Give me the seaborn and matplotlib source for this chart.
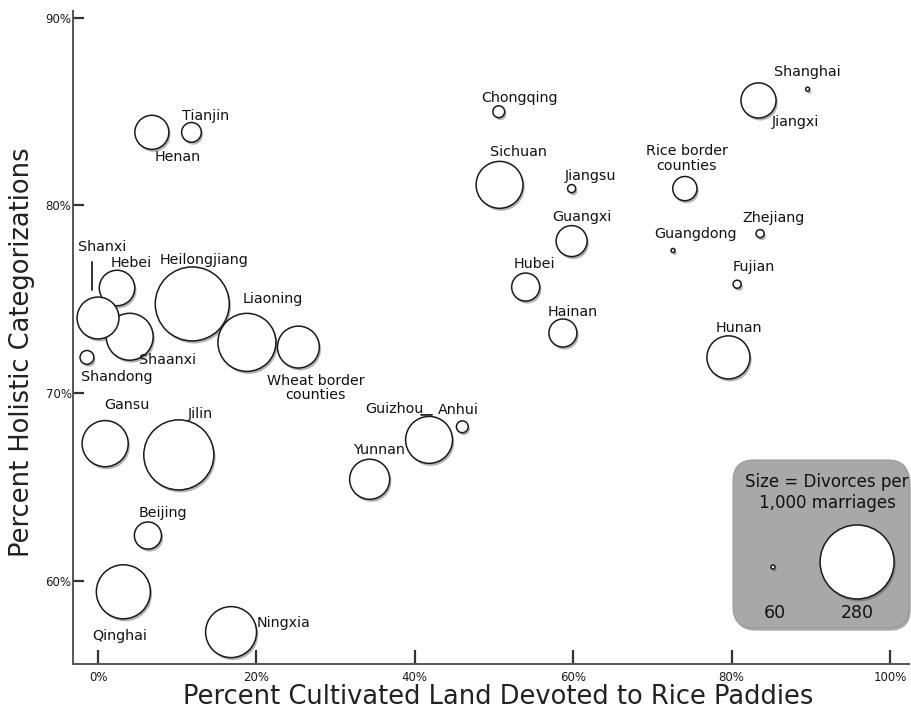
import numpy as np
import pandas as pd
import matplotlib
matplotlib.use("Agg")
import matplotlib.pyplot as plt
import matplotlib.patheffects as pe
from matplotlib.patches import FancyBboxPatch
from matplotlib.transforms import offset_copy
import seaborn as sns

# --- Data ---
provinces = ["Henan", "Tianjin", "Hebei", "Shaanxi", "Shanxi", "Heilongjiang", "Liaoning",
             "Wheat border\ncounties", "Shandong", "Gansu", "Jilin", "Beijing", "Qinghai",
             "Ningxia", "Chongqing", "Sichuan", "Jiangsu", "Guangxi", "Hubei", "Hainan",
             "Guizhou", "Anhui", "Yunnan", "Jiangxi", "Shanghai", "Rice border\ncounties",
             "Zhejiang", "Guangdong", "Fujian", "Hunan"]
rice_pct = [6.8, 11.8, 2.4, 4.0, 0.0, 11.9, 18.8,
            25.3, -1.4, 0.9, 10.2, 6.3, 3.2,
            16.8, 50.6, 50.7, 59.8, 59.8, 54.0, 58.7,
            41.8, 46.0, 34.3, 83.4, 89.6, 74.1,
            83.6, 72.6, 80.7, 79.6]
holistic_pct = [83.9, 83.9, 75.6, 73.0, 74.0, 74.75, 72.7,
                72.45, 71.9, 67.3, 66.7, 62.4, 59.4,
                57.25, 85.0, 81.1, 80.9, 78.1, 75.65, 73.2,
                67.5, 68.2, 65.4, 85.6, 86.2, 80.9,
                78.5, 77.6, 75.8, 71.9]
divorces = [106, 75, 110, 148, 130, 280, 195,
            130, 67, 145, 257, 89, 177,
            164, 65, 148, 62, 98, 91, 91,
            148, 65, 124, 109, 60, 83,
            62, 60, 62, 134]

legend_values = [60, 280]
x_ticks = [0, 20, 40, 60, 80, 100]
y_ticks = [60, 70, 80, 90]

# label offsets from bubble centre, in pixels (dx right, dy down)
label_offsets = {
    "Henan": (26, 25), "Tianjin": (14, -16), "Hebei": (14, -25), "Heilongjiang": (12, -44),
    "Shanxi": (4, -71), "Shaanxi": (38, 23), "Liaoning": (26, -43),
    "Wheat border\ncounties": (17, 41), "Shandong": (30, 20), "Gansu": (22, -39),
    "Jilin": (22, -41), "Beijing": (15, -23), "Qinghai": (-4, 44), "Ningxia": (52, -9),
    "Chongqing": (21, -14), "Sichuan": (19, -33), "Jiangsu": (19, -13), "Guangxi": (10, -24),
    "Hubei": (9, -23), "Hainan": (10, -21), "Guizhou": (-35, -31), "Anhui": (-4, -17),
    "Yunnan": (9, -29), "Jiangxi": (37, 22), "Shanghai": (0, -17),
    "Rice border\ncounties": (2, -30), "Zhejiang": (13, -16), "Guangdong": (23, -16),
    "Fujian": (17, -17), "Hunan": (10, -29),
}
# short leader lines: province -> ((dx0, dy0), (dx1, dy1)) in pixels, y down
leaders = {"Shanxi": ((-6, -56), (-6, -28)), "Guizhou": ((-8, -25), (3, -25))}

df = pd.DataFrame({"province": provinces, "rice": rice_pct,
                   "holistic": holistic_pct, "divorces": divorces})

# --- Style ---
sns.set_theme(style="white")
plt.rcParams["font.family"] = ["DejaVu Sans"]

SIZES = (8.3, 2840)
SIZE_NORM = (60, 280)

def marker_area(v):
    return SIZES[0] + (v - SIZE_NORM[0]) / (SIZE_NORM[1] - SIZE_NORM[0]) * (SIZES[1] - SIZES[0])

shadow = [pe.SimplePatchShadow(offset=(1.2, -1.8), shadow_rgbFace="#555555", alpha=0.45), pe.Normal()]

fig = plt.figure(figsize=(9.12, 7.16), dpi=100)
ax = fig.add_axes([73 / 912, 1 - 664 / 716, 836 / 912, 653 / 716])

sns.scatterplot(data=df, x="rice", y="holistic", size="divorces",
                sizes=SIZES, size_norm=SIZE_NORM, color="white",
                edgecolor="#1a1a1a", linewidth=1.1, legend=False, ax=ax, zorder=3)
for coll in ax.collections:
    coll.set_path_effects(shadow)

for _, row in df.iterrows():
    dx, dy = label_offsets[row["province"]]
    ax.annotate(row["province"], (row["rice"], row["holistic"]),
                xytext=(dx, -dy), textcoords="offset pixels",
                ha="center", va="center", fontsize=10.3, color="#111111",
                linespacing=1.05, zorder=4)

for name, ((dx0, dy0), (dx1, dy1)) in leaders.items():
    r = df[df["province"] == name].iloc[0]
    ax.annotate("", (r["rice"], r["holistic"]), (r["rice"], r["holistic"]),
                xycoords=offset_copy(ax.transData, fig=fig, x=dx1, y=-dy1, units="dots"),
                textcoords=offset_copy(ax.transData, fig=fig, x=dx0, y=-dy0, units="dots"),
                arrowprops=dict(arrowstyle="-", color="#222222", lw=1.3, shrinkA=0, shrinkB=0))

ax.set_xlim(-3.16, 102.4)
ax.set_ylim(55.55, 90.37)
ax.set_xticks(x_ticks)
ax.set_yticks(y_ticks)
ax.set_xticklabels([f"{t}%" for t in x_ticks])
ax.set_yticklabels([f"{t}%" for t in y_ticks])
ax.tick_params(axis="both", direction="in", colors="#333333", width=1.6,
               labelsize=8.5, labelcolor="#1a1a1a", bottom=True, left=True)
ax.tick_params(axis="x", length=10, pad=5)
ax.tick_params(axis="y", length=8, pad=1)

for side in ["top", "right"]:
    ax.spines[side].set_visible(False)
for side in ["left", "bottom"]:
    ax.spines[side].set_color("#555555")
    ax.spines[side].set_linewidth(1.4)

ax.set_xlabel("Percent Cultivated Land Devoted to Rice Paddies", fontsize=18.5,
              color="#222222", va="center")
ax.set_ylabel("Percent Holistic Categorizations", fontsize=18.5,
              color="#222222", va="center")
ax.xaxis.set_label_coords(0.509, -0.0505)
ax.yaxis.set_label_coords(-0.061, 0.478)

# --- Size legend box ---
lax = fig.add_axes([733 / 912, 1 - 628 / 716, 176 / 912, 168 / 716])
lax.set_xlim(0, 1)
lax.set_ylim(0, 1)
lax.axis("off")
aspect = 176 / 168
box_shadow = FancyBboxPatch((0.01, -0.016), 1.0, 1.0,
                            boxstyle="round,pad=0,rounding_size=0.12",
                            mutation_aspect=aspect, transform=lax.transAxes,
                            facecolor="#555555", edgecolor="none", alpha=0.5,
                            clip_on=False)
box = FancyBboxPatch((0, 0), 1.0, 1.0, boxstyle="round,pad=0,rounding_size=0.12",
                     mutation_aspect=aspect, transform=lax.transAxes,
                     facecolor="#a8a8a8", edgecolor="#999999", linewidth=0.8,
                     clip_on=False)
lax.add_patch(box_shadow)
lax.add_patch(box)
lax.text(0.534, 0.869, "Size = Divorces per", ha="center", va="center",
         fontsize=12, color="#111111")
lax.text(0.534, 0.744, "1,000 marriages", ha="center", va="center",
         fontsize=12, color="#111111")
leg = lax.scatter([0.227, 0.705], [0.363, 0.393],
                  s=[marker_area(v) for v in legend_values],
                  facecolor="white", edgecolor="#1a1a1a", linewidth=1.1, zorder=3)
leg.set_path_effects(shadow)
for xpos, v in zip([0.239, 0.705], legend_values):
    lax.text(xpos, 0.089, str(v), ha="center", va="center", fontsize=12.5, color="#111111")

fig.savefig("out.png", dpi=100)
